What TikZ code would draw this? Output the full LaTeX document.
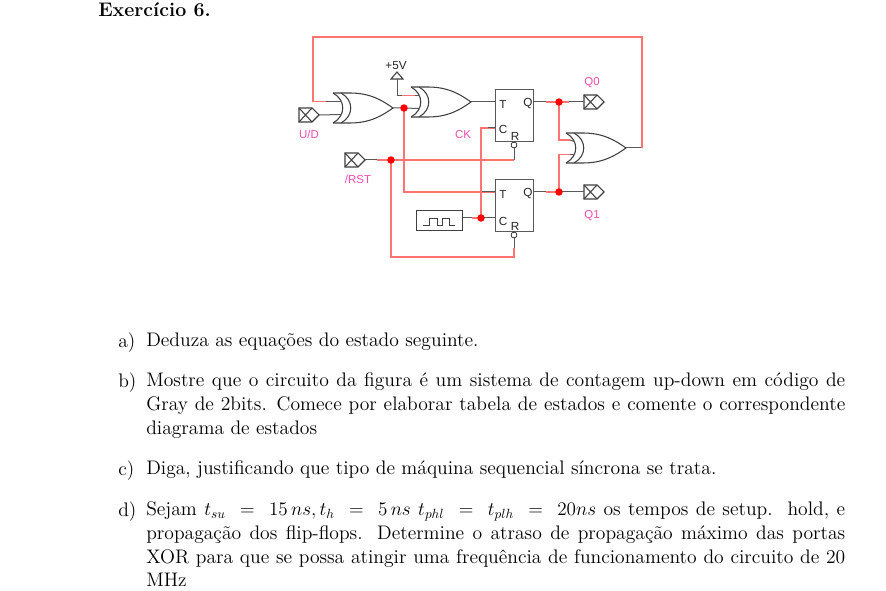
\documentclass[tikz,border=0pt]{standalone}
\usepackage{fontspec}
\newfontfamily\labelfont{Liberation Sans}
\tikzset{
  x=0.75pt,y=-0.75pt,
  gatestroke/.style={draw=black!75,line width=0.8pt,line join=miter},
  stub/.style={draw=black!65,line width=0.75pt},
  redwire/.style={draw=red!55,line width=0.8pt,line join=miter},
  joint/.style={circle,fill=red,inner sep=0pt,minimum size=5.6pt},
  ffbox/.style={draw=black!65,line width=0.75pt,fill=white,minimum width=28.5pt,minimum height=39pt,inner sep=0pt},
  pinlabel/.style={font=\labelfont\fontsize{8.8}{10}\selectfont,inner sep=0pt,text=black!85},
  siglabel/.style={font=\labelfont\fontsize{8.6}{10}\selectfont,inner sep=0pt,text=magenta!70},
  body/.style={inner sep=0pt,anchor=north west,font=\fontsize{14.7}{17.8}\selectfont},
  para/.style={body,text width=524.25pt,align=justify},
  bubble/.style={draw=black!70,line width=0.7pt,fill=white,minimum size=4pt,inner sep=0pt,rounded corners=1pt},
  xorgate/.pic={
    \draw[gatestroke] (0,-15) .. controls (13,-8) and (13,8) .. (0,15);
    \draw[gatestroke] (8,-15) .. controls (21,-8) and (21,8) .. (8,15);
    \draw[gatestroke] (0,-15) -- (17,-15) .. controls (38,-15) and (50,-7) .. (60,0)
      .. controls (50,7) and (38,15) .. (17,15) -- (0,15);
    \coordinate (-a) at (8,-6.5);
    \coordinate (-b) at (8,6.5);
    \coordinate (-o) at (60,0);
  },
  portbox/.pic={
    \draw[gatestroke] (0,-7) -- (13,-7) -- (20,0) -- (13,7) -- (0,7) -- cycle;
    \draw[gatestroke] (0,-7) -- (13,7) (0,7) -- (13,-7);
    \coordinate (-l) at (0,0);
    \coordinate (-r) at (20,0);
  },
  supply/.pic={
    \draw[gatestroke] (0,0) -- (6,7) -- (-6,7) -- cycle;
    \coordinate (-s) at (0,7);
  },
}
\begin{document}
\begin{tikzpicture}
\useasboundingbox (0,0) rectangle (886,591);
\fill[white] (0,0) rectangle (886,591);

% title
\node[inner sep=0pt,anchor=base west,font=\fontsize{14.7}{17}\selectfont\bfseries] (title) at (98,17) {Exercício 6.};

% anchors of the wiring
\coordinate (jx1) at (404,108);
\coordinate (jq0) at (559,102);
\coordinate (jq1) at (559,192);
\coordinate (jrst) at (391,160);
\coordinate (jclk) at (481,218);
\coordinate (ff1t) at (495,102);
\coordinate (ff1c) at (495,128);
\coordinate (ff1q) at (533,102);
\coordinate (ff2t) at (495,192);
\coordinate (ff2c) at (495,218);
\coordinate (ff2q) at (533,192);

\pic (x1) at (333,108) {xorgate};
\pic (x2) at (411,102) {xorgate};
\pic (x3) at (566,148) {xorgate};
\pic (pud) at (299,115) {portbox};
\pic (prst) at (345,160) {portbox};
\pic (pq0) at (584,102) {portbox};
\pic (pq1) at (584,192) {portbox};
\pic (vcc) at (397,72) {supply};

\coordinate (r1) at (642,148);
\coordinate (r2) at (642,37);
\coordinate (r3) at (313,37);
\coordinate (r4) at (313,101.5);
\coordinate (r5) at (326,101.5);
\draw[stub] (x3-o) -- (r1);
\draw[redwire] (r1) -- (r2) -- (r3) -- (r4) -- (r5);
\draw[stub] (r5) -- (x1-a);
\draw[stub] (pud-r) -- (x1-b);
\draw[stub] (x1-o) -- (jx1) -- (x2-b);
\coordinate (v1) at (397,95.5);
\coordinate (v2) at (402,95.5);
\coordinate (v3) at (415,95.5);
\draw[stub] (vcc-s) -- (v1) -- (v2);
\draw[redwire] (v2) -- (v3);
\draw[stub] (v3) -- (x2-a);
\draw[stub] (x2-o) -- (ff1t);
\draw[redwire] (jx1) |- (ff2t);
\coordinate (t2s) at (482,192);
\draw[stub] (t2s) -- (ff2t);
\draw[redwire] (jclk) -- (481,128) -- (ff1c);
\draw[stub] (488,128) -- (ff1c);
% reset
\coordinate (rs1) at (377,160);
\coordinate (rs2) at (514,160);
\coordinate (rs3) at (514,257);
\coordinate (rs4) at (391,257);
\draw[stub] (prst-r) -- (rs1);
\draw[redwire] (rs1) -- (rs2);
\draw[redwire] (jrst) -- (rs4) -- (rs3) -- (514,248);
% outputs
\draw[stub] (ff1q) -- (546,102);
\draw[redwire] (546,102) -- (jq0);
\draw[redwire] (jq0) -- (559,140) -- (570,140);
\draw[stub] (570,140) -- (x3-a);
\draw[stub] (jq0) ++(10,0) -- (pq0-l);
\draw[redwire] (jq0) -- ++(10,0);
\draw[stub] (ff2q) -- (546,192);
\draw[redwire] (546,192) -- (jq1);
\draw[redwire] (jq1) -- (559,154.5) -- (570,154.5);
\draw[stub] (570,154.5) -- (x3-b);
\draw[stub] (jq1) -- (pq1-l);
% clock
\node[draw=black!75,line width=0.75pt,minimum width=34.5pt,minimum height=15pt,inner sep=0pt] (clk) at (439,221) {};
\draw[gatestroke,line width=0.65pt] (423,225) -- (429,225) -- (429,218) -- (437,218) -- (437,225) -- (442,225) -- (442,218) -- (449,218) -- (449,225) -- (455,225);
\draw[stub] (clk.east |- jclk) -- (472,218);
\draw[redwire] (472,218) -- (jclk);
\draw[stub] (jclk) -- (ff2c);

% flip-flops
\node[ffbox] (ff1) at (514,116) {};
\node[ffbox] (ff2) at (514,206) {};
\node[pinlabel] (lt1) at (503,104) {T};
\node[pinlabel] (lq1) at (528,104) {Q};
\node[pinlabel] (lc1) at (503,129) {C};
\node[pinlabel] (lr1) at (515,136) {R};
\node[pinlabel] (lt2) at (503,194) {T};
\node[pinlabel] (lq2) at (528,194) {Q};
\node[pinlabel] (lc2) at (503,221) {C};
\node[pinlabel] (lr2) at (515,226) {R};
\node[bubble] (b1) at (514,145) {};
\node[bubble] (b2) at (514,235) {};
\draw[stub] (b1.south) -- (rs2);
\draw[stub] (b2.south) -- (514,248);

% junctions
\node[joint] (d1) at (jx1) {};
\node[joint] (d2) at (jq0) {};
\node[joint] (d3) at (jq1) {};
\node[joint] (d4) at (jrst) {};
\node[joint] (d5) at (jclk) {};

% labels
\node[pinlabel] (l5v) at (396,65.5) {+5V};
\node[siglabel] (lud) at (309,134) {U/D};
\node[siglabel] (lck) at (463,135) {CK};
\node[siglabel] (lq0) at (592,83) {Q0};
\node[siglabel] (lrst) at (358,179) {/RST};
\node[siglabel] (lq1s) at (592,215.5) {Q1};

% exercise text
\node[body] (la) at (118,333) {a)};
\node[body] (ta) at (146,333) {Deduza as equações do estado seguinte.};
\node[body] (lb) at (118,372.5) {b)};
\node[para] (tb) at (146,372.5) {Mostre que o circuito da figura é um sistema de contagem up-down em código de\linebreak Gray de 2bits. Comece por elaborar tabela de estados e comente o correspondente\linebreak diagrama de estados};
\node[body] (lc) at (118,460.5) {c)};
\node[body] (tc) at (146,460.5) {Diga, justificando que tipo de máquina sequencial síncrona se trata.};
\node[body] (ld) at (118,501.5) {d)};
\node[para] (td) at (146,501.5) {Sejam $t_{su}\ =\ 15\,ns, t_h\ =\ 5\,ns\ t_{phl}\ =\ t_{plh}\ =\ 20ns$ os tempos de setup.\ \ hold, e\linebreak propagação dos flip-flops. Determine o atraso de propagação máximo das portas\linebreak XOR para que se possa atingir uma frequência de funcionamento do circuito de 20\linebreak MHz};
\end{tikzpicture}
\end{document}
